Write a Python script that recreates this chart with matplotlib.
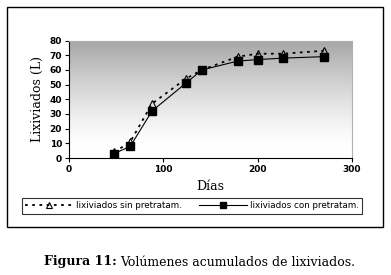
import numpy as np
import matplotlib.pyplot as plt
from matplotlib.patches import Rectangle

days = [48, 65, 88, 124, 141, 179, 200, 227, 270]
sin_pretrat = [4, 11, 37, 54, 60, 69, 71, 71, 73]
con_pretrat = [3, 8, 32, 51, 60, 66, 67, 68, 69]
x_ticks = [0, 100, 200, 300]
y_ticks = [0, 10, 20, 30, 40, 50, 60, 70, 80]

W, H = 391, 275
fig = plt.figure(figsize=(W / 100, H / 100), dpi=100)
fig.patch.set_facecolor("white")

# outer frame around the chart
fig.patches.append(Rectangle((7 / W, 1 - 227 / H), 376 / W, 220 / H,
                             transform=fig.transFigure, fill=False,
                             edgecolor="black", linewidth=1.0))

ax = fig.add_axes([69 / W, 1 - 158 / H, 283 / W, 117.5 / H])

# gray gradient background (gray at top, white toward the bottom)
t = np.clip((np.linspace(0, 80, 256) - 8) / 72, 0, 1)
shade = 1 - 0.35 * t ** 1.3
grad = np.repeat(shade.reshape(-1, 1, 1), 3, axis=2)
ax.imshow(grad, extent=[0, 300, 0, 80], aspect="auto", origin="lower", zorder=0)

ax.plot(days, sin_pretrat, linestyle=(0, (1.5, 2.5)), color="black", linewidth=1.3,
        marker="^", markersize=5.5, markerfacecolor="none", markeredgecolor="black",
        markeredgewidth=0.8, label="lixiviados sin pretratam.", zorder=3)
ax.plot(days, con_pretrat, linestyle="-", color="black", linewidth=0.8,
        marker="s", markersize=6, markerfacecolor="black",
        label="lixiviados con pretratam.", zorder=4)

ax.set_xlim(0, 300)
ax.set_ylim(0, 80)
ax.set_xticks(x_ticks)
ax.set_yticks(y_ticks)
ax.tick_params(labelsize=6.5, length=3, width=0.8, direction="out", pad=2)
for lbl in ax.get_xticklabels() + ax.get_yticklabels():
    lbl.set_fontweight("bold")
for s in ["top", "right"]:
    ax.spines[s].set_color("#b0b0b0")
    ax.spines[s].set_linewidth(0.8)
for s in ["left", "bottom"]:
    ax.spines[s].set_color("black")
    ax.spines[s].set_linewidth(0.8)

ax.set_ylabel("Lixiviados (L)", family="DejaVu Serif", fontsize=9, labelpad=4)
ax.set_xlabel("Días", family="DejaVu Serif", fontsize=9, labelpad=4)

leg = fig.legend(loc="center", bbox_to_anchor=(192 / W, 1 - 206 / H), ncol=2,
                 fontsize=6.3, frameon=True, fancybox=False, edgecolor="black",
                 handlelength=5.5, handletextpad=0.3, columnspacing=2.0,
                 borderpad=0.35, borderaxespad=0, markerscale=0.7)
leg.get_frame().set_linewidth(0.8)

fig.text(117 / W, 1 - 262 / H, "Figura 11:", family="DejaVu Serif", fontsize=9,
         fontweight="bold", ha="right", va="center")
fig.text(120 / W, 1 - 262 / H, "Volúmenes acumulados de lixiviados.",
         family="DejaVu Serif", fontsize=9, ha="left", va="center")

fig.savefig("out.png", dpi=100)
